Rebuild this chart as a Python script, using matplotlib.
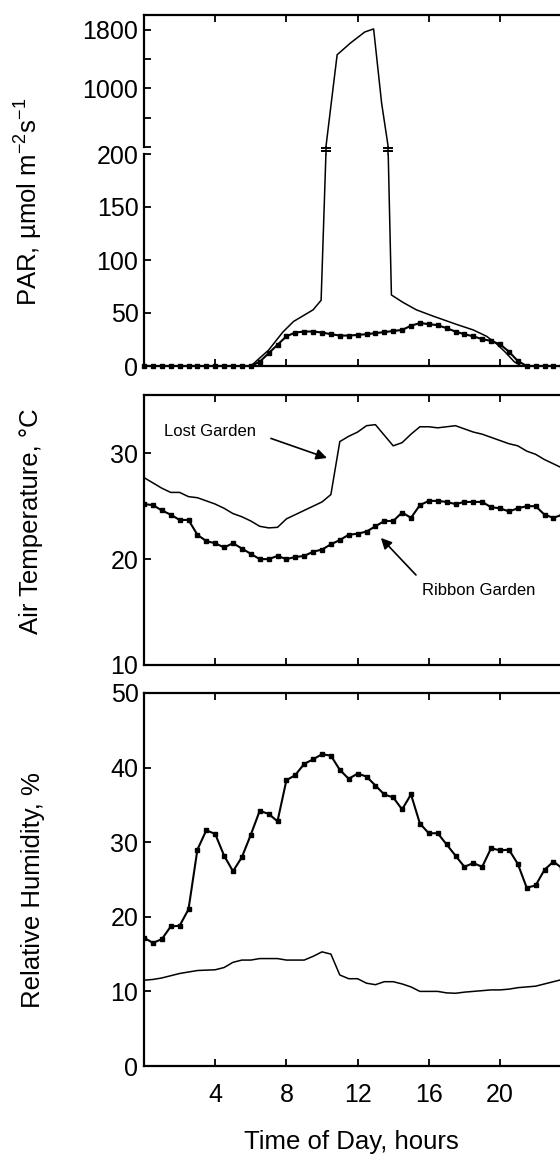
import numpy as np
import matplotlib
matplotlib.use("Agg")
import matplotlib.pyplot as plt
from matplotlib import transforms

plt.rcParams['font.family'] = ['Liberation Sans', 'DejaVu Sans']
plt.rcParams['mathtext.fontset'] = 'custom'
plt.rcParams['mathtext.rm'] = 'Liberation Sans'

# half-hourly readings
hours = [0, 0.5, 1, 1.5, 2, 2.5, 3, 3.5, 4, 4.5, 5, 5.5, 6, 6.5, 7, 7.5,
         8, 8.5, 9, 9.5, 10, 10.5, 11, 11.5, 12, 12.5, 13, 13.5, 14, 14.5,
         15, 15.5, 16, 16.5, 17, 17.5, 18, 18.5, 19, 19.5, 20, 20.5, 21,
         21.5, 22, 22.5, 23, 23.5, 24]

ribbon_par = [0, 0, 0, 0, 0, 0, 0, 0, 0, 0, 0, 0, 0,
              4, 12, 20, 28, 31.6, 32.5, 32.5, 31.6, 30, 28.7, 28.7, 29.3, 30,
              31, 32, 33, 34, 38, 40.5, 39.5, 38.5, 35.7, 32.5, 30, 28, 25.3,
              23.7, 20.5, 13.6, 4.7,
              0, 0, 0, 0, 0, 0]

# Lost Garden PAR traced at its own vertices (200 = where it crosses the break)
lost_par_hours = [0, 6.0, 7.0, 7.8, 8.4, 9.0, 9.5, 9.95, 10.22, 10.85, 11.6,
                  12.4, 12.9, 13.35, 13.72, 13.9, 14.55, 15.3, 16.25, 17.6,
                  18.5, 19.25, 19.8, 20.3, 20.8, 21.2, 24]
lost_par = [0, 0, 15, 32, 42, 48, 53, 62, 200, 1458, 1618, 1768, 1810, 797,
            200, 67, 60, 53, 47, 39, 34, 28, 21, 13, 4, 0, 0]

lost_temp = [27.7, 27.2, 26.7, 26.3, 26.3, 25.9, 25.8, 25.5, 25.2, 24.8,
             24.3, 24.0, 23.6, 23.1, 22.95, 23.0, 23.8, 24.2, 24.6, 25.0,
             25.4, 26.1, 31.1, 31.6, 32.0, 32.6, 32.7, 31.7, 30.7, 31.0,
             31.8, 32.5, 32.5, 32.4, 32.5, 32.6, 32.3, 32.0, 31.8, 31.5,
             31.2, 30.9, 30.7, 30.2, 29.9, 29.4, 29.0, 28.6, 28.2]
ribbon_temp = [25.2, 25.1, 24.6, 24.2, 23.7, 23.7, 22.3, 21.7, 21.5, 21.1,
               21.5, 21.0, 20.5, 20.0, 20.0, 20.3, 20.0, 20.2, 20.3, 20.7,
               20.9, 21.4, 21.8, 22.3, 22.4, 22.6, 23.1, 23.6, 23.6, 24.4,
               23.9, 25.1, 25.5, 25.5, 25.4, 25.2, 25.4, 25.4, 25.4, 24.9,
               24.8, 24.5, 24.8, 25.0, 25.0, 24.2, 23.9, 24.2, 24.3]

ribbon_rh = [17.2, 16.5, 17.0, 18.7, 18.8, 21.0, 29.0, 31.6, 31.1, 28.2,
             26.1, 28.0, 31.0, 34.2, 33.8, 32.8, 38.3, 39.0, 40.5, 41.1,
             41.8, 41.6, 39.7, 38.5, 39.2, 38.8, 37.6, 36.4, 36.0, 34.4,
             36.4, 32.5, 31.2, 31.2, 29.7, 28.2, 26.7, 27.2, 26.7, 29.2,
             28.9, 29.0, 27.1, 23.9, 24.2, 26.3, 27.4, 26.5, 26.0]
lost_rh = [11.5, 11.6, 11.8, 12.1, 12.4, 12.6, 12.8, 12.85, 12.9, 13.2,
           13.9, 14.2, 14.2, 14.4, 14.4, 14.4, 14.2, 14.2, 14.2, 14.7,
           15.3, 15.0, 12.2, 11.7, 11.7, 11.1, 10.9, 11.3, 11.3, 11.0,
           10.6, 10.0, 10.0, 10.0, 9.8, 9.75, 9.9, 10.0, 10.1, 10.2,
           10.2, 10.3, 10.5, 10.6, 10.7, 11.0, 11.3, 11.6, 11.9]

PAR_BREAK = 200
x_ticks = [4, 8, 12, 16, 20]

# ---------------- layout (pixels of the 560x1154 picture) ----------------
W, H = 560, 1154
X0, PX_PER_H = 144, 17.8


def box(top, bottom):
    return [X0 / W, 1 - bottom / H, 24 * PX_PER_H / W, (bottom - top) / H]


fig = plt.figure(figsize=(W / 100, H / 100), dpi=100)
ax_hi = fig.add_axes(box(15, 147))
ax_lo = fig.add_axes(box(154, 366))
ax_t = fig.add_axes(box(395, 665))
ax_rh = fig.add_axes(box(693, 1066))

lost_kw = dict(color='black', lw=1.1)
ribbon_kw = dict(color='black', lw=1.5, marker='s', ms=3.3, zorder=3)

for ax in (ax_hi, ax_lo, ax_t, ax_rh):
    ax.set_xlim(0, 24)
    ax.set_xticks(x_ticks)
    for sp in ax.spines.values():
        sp.set_linewidth(1.6)
    ax.tick_params(direction='in', length=5, width=1.3, labelsize=18,
                   top=True, right=True, pad=4)
    ax.tick_params(axis='x', labelbottom=False, pad=12)

# ---------------- PAR, broken axis ----------------
ax_hi.plot(lost_par_hours, lost_par, **lost_kw)
ax_lo.plot(lost_par_hours, lost_par, **lost_kw)
ax_lo.plot(hours, ribbon_par, clip_on=False, **ribbon_kw)

ax_hi.set_ylim(PAR_BREAK, 2000)
ax_hi.set_yticks([200, 600, 1000, 1400, 1800])
ax_hi.set_yticklabels(['', '', '1000', '', '1800'])
ax_hi.spines['bottom'].set_visible(False)
ax_hi.tick_params(axis='x', bottom=False)

ax_lo.set_ylim(0, PAR_BREAK)
ax_lo.set_yticks([0, 50, 100, 150, 200])
ax_lo.spines['top'].set_visible(False)
ax_lo.tick_params(axis='x', top=False)

# break marks where the Lost Garden line jumps between the two scales
trans = transforms.blended_transform_factory(ax_lo.transData, fig.transFigure)
for hx in [h for h, v in zip(lost_par_hours, lost_par) if v == PAR_BREAK]:
    ax_lo.plot([hx, hx], [1 - 147 / H, 1 - 154 / H], color='black', lw=1.1,
               transform=trans, clip_on=False)
    for ypx in (147.5, 150.8):
        ax_lo.plot([hx], [1 - ypx / H], marker='_', ms=7, mew=1.4,
                   color='black', transform=trans, clip_on=False)

# ---------------- air temperature ----------------
ax_t.plot(hours, lost_temp, **lost_kw)
ax_t.plot(hours, ribbon_temp, **ribbon_kw)
ax_t.set_ylim(10, 35.5)
ax_t.set_yticks([10, 20, 30])

arrow = dict(arrowstyle='-|>', mutation_scale=16, lw=1.2, color='black',
             shrinkA=0, shrinkB=0)
ax_t.text(1.12, 32.1, 'Lost Garden', fontsize=12, ha='left', va='center')
ax_t.annotate('', xy=(10.28, 29.55), xytext=(7.13, 31.4), arrowprops=arrow)
ax_t.text(15.6, 17.0, 'Ribbon Garden', fontsize=12, ha='left', va='center')
ax_t.annotate('', xy=(13.31, 22.0), xytext=(15.28, 18.5), arrowprops=arrow)

# ---------------- relative humidity ----------------
ax_rh.plot(hours, lost_rh, **lost_kw)
ax_rh.plot(hours, ribbon_rh, **ribbon_kw)
ax_rh.set_ylim(0, 50)
ax_rh.set_yticks([0, 10, 20, 30, 40, 50])
ax_rh.tick_params(axis='x', labelbottom=True)
ax_rh.set_xticklabels([str(t) for t in x_ticks])

# ---------------- axis titles ----------------
fig.text(28 / W, 1 - 202 / H,
         r'PAR, µmol m$^{\mathregular{-2}}$s$^{\mathregular{-1}}$',
         rotation=90, ha='center', va='center', fontsize=18.5)
fig.text(31 / W, 1 - 521 / H, 'Air Temperature, °C',
         rotation=90, ha='center', va='center', fontsize=18.5)
fig.text(33 / W, 1 - 890 / H, 'Relative Humidity, %',
         rotation=90, ha='center', va='center', fontsize=18.5)
fig.text(351 / W, 1 - 1142 / H, 'Time of Day, hours',
         ha='center', va='center', fontsize=18.5)

fig.savefig('out.png', dpi=100)
